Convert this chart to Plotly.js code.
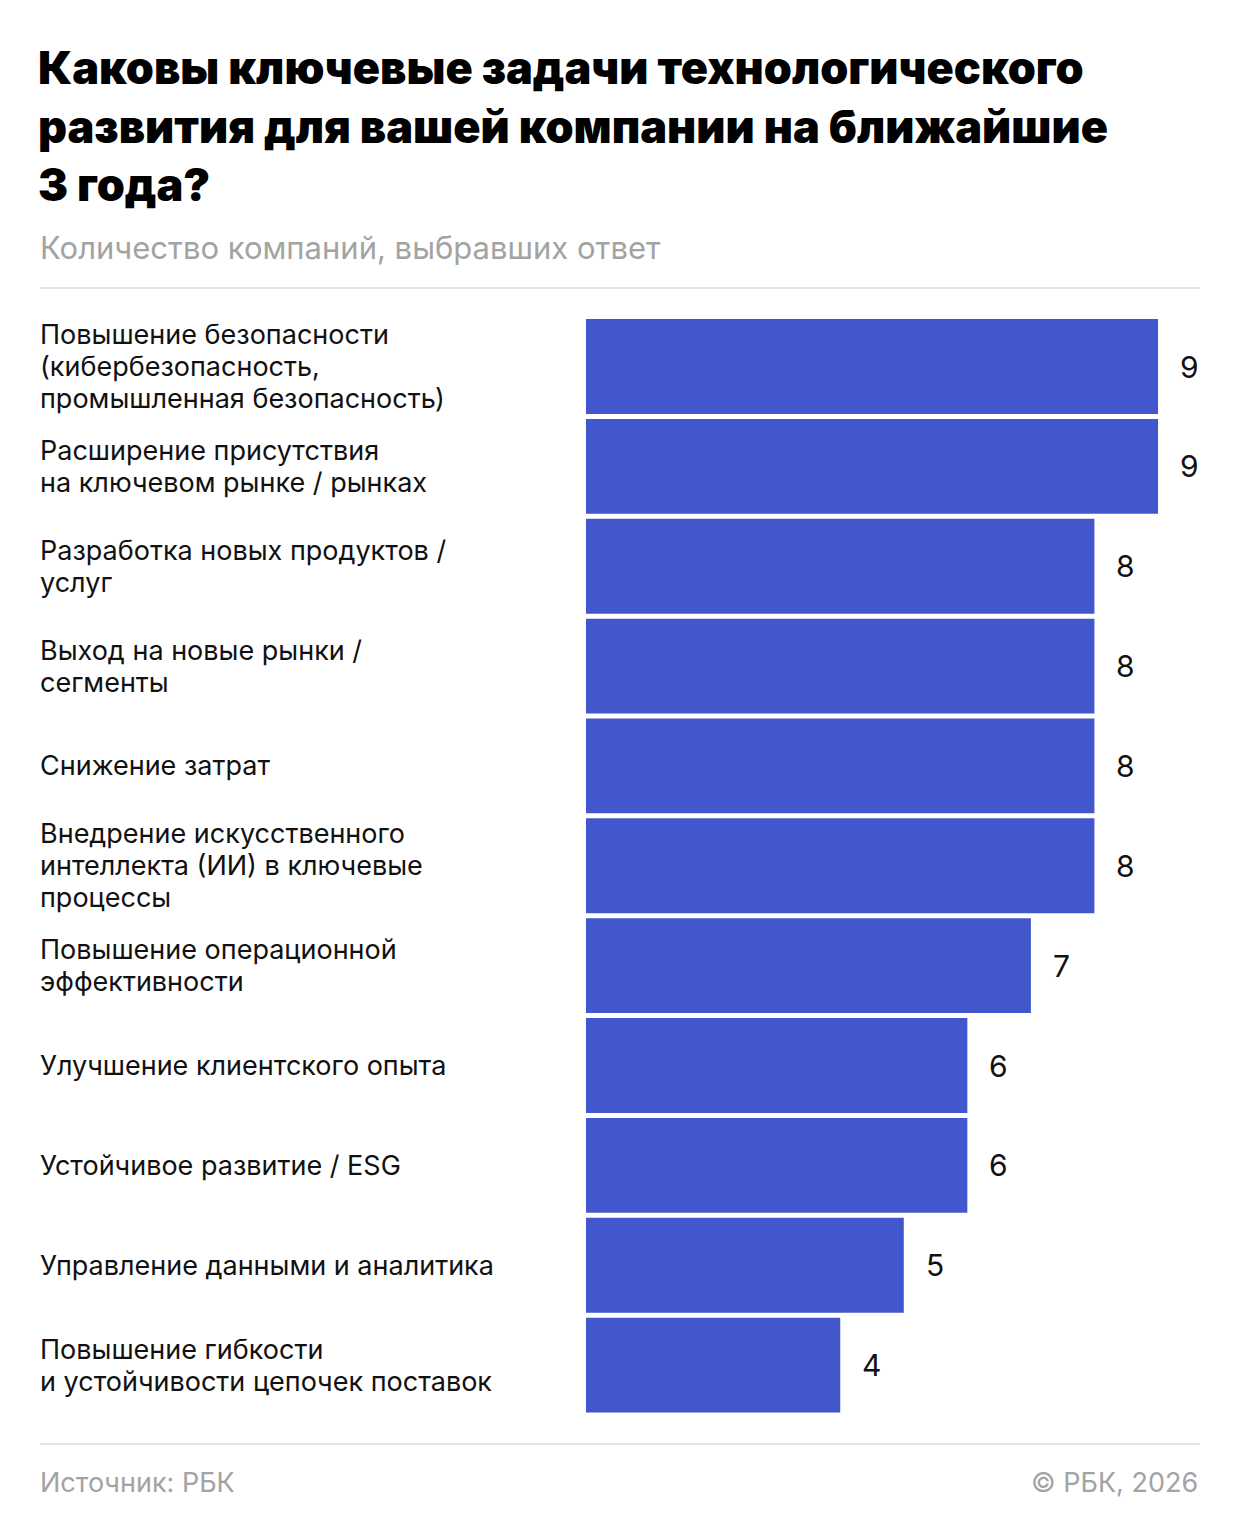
<!DOCTYPE html>
<html>
<head>
<meta charset="utf-8">
<script src="https://cdn.plot.ly/plotly-3.0.1.min.js"></script>
<style>
  html, body { margin: 0; padding: 0; background: #fff; }
  #chart { width: 1240px; height: 1540px; }
</style>
</head>
<body>
<div id="chart"></div>
<script>
// Подписи категорий (сверху вниз)
const categories = [
  'Повышение безопасности<br>(кибербезопасность,<br>промышленная безопасность)',
  'Расширение присутствия<br>на ключевом рынке / рынках',
  'Разработка новых продуктов /<br>услуг',
  'Выход на новые рынки /<br>сегменты',
  'Снижение затрат',
  'Внедрение искусственного<br>интеллекта (ИИ) в ключевые<br>процессы',
  'Повышение операционной<br>эффективности',
  'Улучшение клиентского опыта',
  'Устойчивое развитие / ESG',
  'Управление данными и аналитика',
  'Повышение гибкости<br>и устойчивости цепочек поставок'
];
const values = [9, 9, 8, 8, 8, 8, 7, 6, 6, 5, 4];

const W = 1240, H = 1540;
const mL = 586, mR = 40, mT = 316, mB = 125;
const plotW = W - mL - mR, plotH = H - mT - mB;
const pxPerUnit = 572 / 9;
const xMax = plotW / pxPerUnit;
const FONT = 'Inter, Roboto, sans-serif';
const LINE = 32; // межстрочный интервал подписей

const ids = categories.map((c, i) => 'c' + i);

const trace = {
  type: 'bar',
  orientation: 'h',
  x: values,
  y: ids,
  marker: { color: '#4157cb' },
  hoverinfo: 'none'
};

// каждая строка подписи — отдельная аннотация, чтобы задать интервал
const labelAnnotations = [];
categories.forEach((c, i) => {
  const lines = c.split('<br>');
  lines.forEach((ln, k) => {
    labelAnnotations.push({
      xref: 'paper', yref: 'y',
      x: 0, xshift: -(mL - 38),
      y: ids[i], yshift: ((lines.length - 1) / 2 - k) * LINE,
      text: ln,
      xanchor: 'left', yanchor: 'middle', align: 'left',
      showarrow: false,
      font: { family: FONT, size: 27, color: '#111' }
    });
  });
});

const valueAnnotations = values.map((v, i) => ({
  xref: 'x', yref: 'y',
  x: v, y: ids[i], xshift: 20,
  text: String(v),
  xanchor: 'left', yanchor: 'middle',
  showarrow: false,
  font: { family: FONT, size: 30, color: '#111' }
}));

const toPx = (px) => (px - mL) / plotW;
const toPy = (py) => (H - mB - py) / plotH;

const layout = {
  width: W, height: H,
  margin: { l: mL, r: mR, t: mT, b: mB },
  paper_bgcolor: '#fff', plot_bgcolor: '#fff',
  showlegend: false,
  bargap: 0.05,
  title: {
    text: 'Каковы ключевые задачи технологического<br>развития для вашей компании на ближайшие<br>3 года?',
    x: 38 / W, xanchor: 'left', xref: 'container',
    y: 1 - 84 / H, yanchor: 'top', yref: 'container',
    font: { family: FONT, size: 45, weight: 900, color: '#000' }
  },
  xaxis: {
    range: [0, xMax], visible: false, fixedrange: true
  },
  yaxis: {
    categoryorder: 'array', categoryarray: ids,
    autorange: 'reversed', showticklabels: false,
    showgrid: false, zeroline: false, fixedrange: true
  },
  annotations: labelAnnotations.concat(valueAnnotations, [
    {
      xref: 'paper', yref: 'paper', x: toPx(38), y: toPy(248),
      xanchor: 'left', yanchor: 'middle', showarrow: false,
      text: 'Количество компаний, выбравших ответ',
      font: { family: FONT, size: 31, color: '#a3a3a3' }
    },
    {
      xref: 'paper', yref: 'paper', x: toPx(38), y: toPy(1482),
      xanchor: 'left', yanchor: 'middle', showarrow: false,
      text: 'Источник: РБК',
      font: { family: FONT, size: 27, color: '#a3a3a3' }
    },
    {
      xref: 'paper', yref: 'paper', x: toPx(1200), y: toPy(1482),
      xanchor: 'right', yanchor: 'middle', showarrow: false,
      text: '© РБК, 2026',
      font: { family: FONT, size: 27, color: '#a3a3a3' }
    }
  ]),
  shapes: [
    { type: 'line', xref: 'paper', yref: 'paper', x0: toPx(40), x1: toPx(1200), y0: toPy(288), y1: toPy(288),
      line: { color: '#e3e3e3', width: 2 } },
    { type: 'line', xref: 'paper', yref: 'paper', x0: toPx(40), x1: toPx(1200), y0: toPy(1444), y1: toPy(1444),
      line: { color: '#e3e3e3', width: 2 } }
  ]
};

Plotly.newPlot('chart', [trace], layout, { staticPlot: true, displayModeBar: false });
</script>
</body>
</html>
